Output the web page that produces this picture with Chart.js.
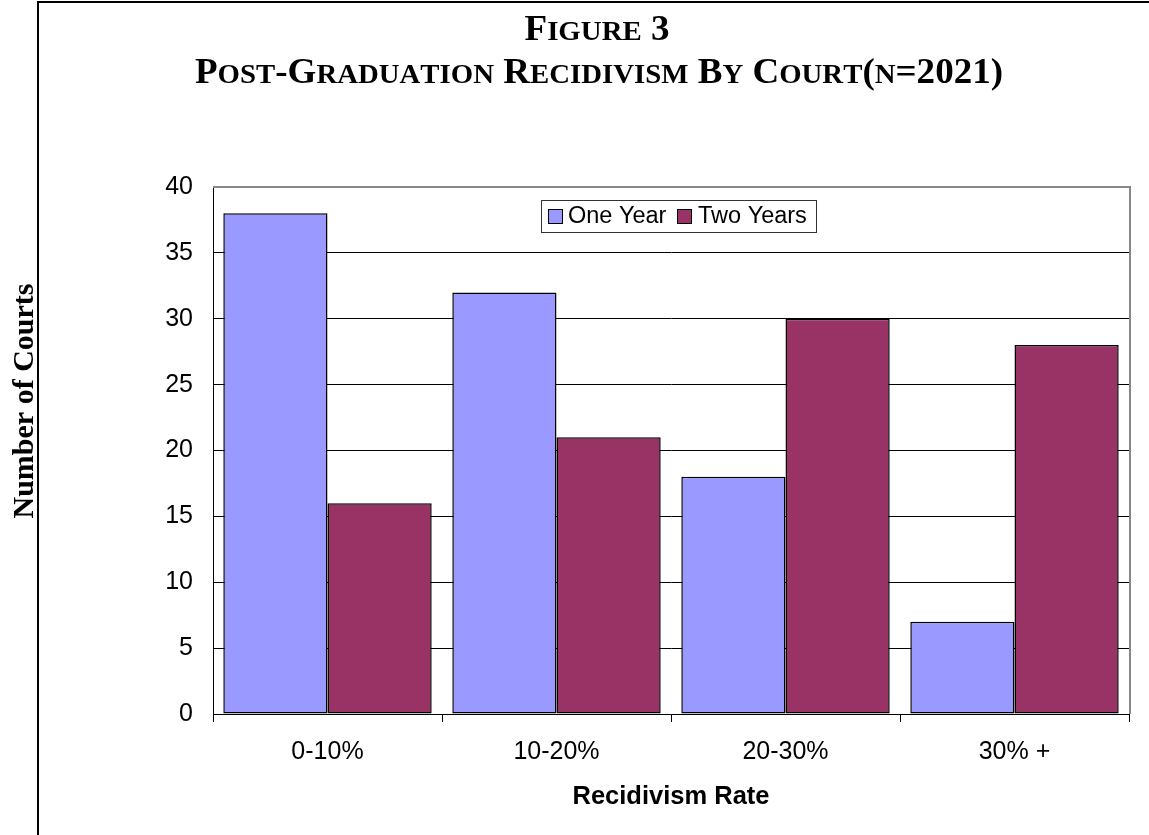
<!DOCTYPE html>
<html><head><meta charset="utf-8">
<script src="https://cdn.jsdelivr.net/npm/chart.js@4/dist/chart.umd.min.js"></script>
<style>html,body{margin:0;padding:0;background:#fff}#wrap{width:1149px;height:835px;position:relative}canvas{display:block}</style>
</head><body><div id="wrap"><canvas id="c" width="1149" height="835"></canvas></div>
<script>
const categories = ['0-10%', '10-20%', '20-30%', '30% +'];
const oneYear = [38, 32, 18, 7];
const twoYears = [16, 21, 30, 28];
const seriesNames = ['One Year', 'Two Years'];
const seriesColors = ['#9999FF', '#993366'];
const yTicks = [0, 5, 10, 15, 20, 25, 30, 35, 40];
const titleLines = ['Figure 3', 'Post-Graduation Recidivism By Court(n=2021)'];
const xTitle = 'Recidivism Rate';
const yTitle = 'Number of Courts';

const SERIF = '"Liberation Serif", "Times New Roman", serif';
const SANS = '"Liberation Sans", Arial, sans-serif';

function drawSmallCaps(ctx, text, cx, baseline, bigSize, smallSize, targetWidth) {
  const runs = [];
  for (const ch of text) {
    const small = ch !== ch.toUpperCase();
    runs.push({ c: small ? ch.toUpperCase() : ch, size: small ? smallSize : bigSize });
  }
  let w = 0;
  for (const r of runs) {
    ctx.font = 'bold ' + r.size + 'px ' + SERIF;
    r.w = ctx.measureText(r.c).width;
    w += r.w;
  }
  const sx = targetWidth ? targetWidth / w : 1;
  ctx.save();
  ctx.translate(cx - (w * sx) / 2, baseline);
  ctx.scale(sx, 1);
  ctx.textAlign = 'left';
  ctx.textBaseline = 'alphabetic';
  ctx.fillStyle = '#000';
  let x = 0;
  for (const r of runs) {
    ctx.font = 'bold ' + r.size + 'px ' + SERIF;
    ctx.fillText(r.c, x, 0);
    x += r.w;
  }
  ctx.restore();
}

const deco = {
  id: 'deco',
  beforeDraw(chart) {
    const ctx = chart.ctx;
    ctx.save();
    ctx.fillStyle = '#fff';
    ctx.fillRect(0, 0, chart.width, chart.height);
    ctx.restore();
  },
  afterDraw(chart) {
    const ctx = chart.ctx;
    const ca = chart.chartArea;
    ctx.save();
    // outer frame
    ctx.strokeStyle = '#000';
    ctx.lineWidth = 2;
    ctx.beginPath();
    ctx.moveTo(38, 835); ctx.lineTo(38, 2); ctx.lineTo(1149, 2);
    ctx.stroke();
    // chart area top/right border
    ctx.strokeStyle = '#888';
    ctx.lineWidth = 2;
    ctx.beginPath();
    ctx.moveTo(ca.left, ca.top); ctx.lineTo(ca.right + 1, ca.top); ctx.lineTo(ca.right + 1, ca.bottom);
    ctx.stroke();
    // titles
    drawSmallCaps(ctx, titleLines[0], 597, 40, 36, 28, 145);
    drawSmallCaps(ctx, titleLines[1], 599, 83, 36, 28, 808);
    // x title
    ctx.fillStyle = '#000';
    ctx.font = 'bold 25.5px ' + SANS;
    ctx.textAlign = 'center';
    ctx.textBaseline = 'alphabetic';
    ctx.fillText(xTitle, (ca.left + ca.right) / 2, 804);
    // y title
    ctx.save();
    ctx.translate(33, 401);
    ctx.rotate(-Math.PI / 2);
    ctx.font = 'bold 30px ' + SERIF;
    ctx.textAlign = 'center';
    ctx.fillText(yTitle, 0, 0);
    ctx.restore();
    // legend
    const lx = 541, ly = 200, lw = 275, lh = 32;
    ctx.fillStyle = '#fff';
    ctx.fillRect(lx, ly, lw, lh);
    ctx.strokeStyle = '#333';
    ctx.lineWidth = 1;
    ctx.strokeRect(lx + 0.5, ly + 0.5, lw, lh);
    const sw = [548, 677], tx = [568, 698];
    ctx.font = '23.5px ' + SANS;
    ctx.textAlign = 'left';
    ctx.textBaseline = 'middle';
    chart.data.datasets.forEach((ds, i) => {
      ctx.fillStyle = ds.backgroundColor;
      ctx.fillRect(sw[i] + 0.5, 209.5, 14, 14);
      ctx.strokeStyle = '#000';
      ctx.strokeRect(sw[i] + 0.5, 209.5, 14, 14);
      ctx.fillStyle = '#000';
      ctx.fillText(ds.label, tx[i], 217);
    });
    ctx.restore();
  }
};

new Chart(document.getElementById('c'), {
  type: 'bar',
  data: {
    labels: categories,
    datasets: [
      { label: seriesNames[0], data: oneYear, backgroundColor: seriesColors[0], borderColor: '#000', borderWidth: 1.5, borderSkipped: false },
      { label: seriesNames[1], data: twoYears, backgroundColor: seriesColors[1], borderColor: '#000', borderWidth: 1.5, borderSkipped: false }
    ]
  },
  options: {
    responsive: false,
    animation: false,
    devicePixelRatio: 1,
    layout: { padding: { top: 187, right: 20, bottom: 0, left: 0 } },
    plugins: { legend: { display: false }, title: { display: false }, tooltip: { enabled: false } },
    datasets: { bar: { categoryPercentage: 0.91, barPercentage: 1.0 } },
    scales: {
      x: {
        offset: true,
        grid: { offset: true, drawOnChartArea: false, drawTicks: true, tickLength: 8, color: '#000', lineWidth: 1 },
        border: { display: true, color: '#000', width: 1 },
        ticks: { color: '#000', font: { family: SANS, size: 25 }, padding: 15, maxRotation: 0 },
        afterFit(s) { s.height = 121; }
      },
      y: {
        min: 0, max: 40,
        afterBuildTicks(s) { s.ticks = yTicks.map(v => ({ value: v })); },
        grid: { drawTicks: false, color: (c) => (c.tick && c.tick.value === 40 ? 'rgba(0,0,0,0)' : '#000'), lineWidth: 1 },
        border: { display: true, color: '#000', width: 1 },
        ticks: { color: '#000', font: { family: SANS, size: 25 }, padding: 20 },
        afterFit(s) { s.width = 213; }
      }
    }
  },
  plugins: [deco]
});
</script>
</body></html>
